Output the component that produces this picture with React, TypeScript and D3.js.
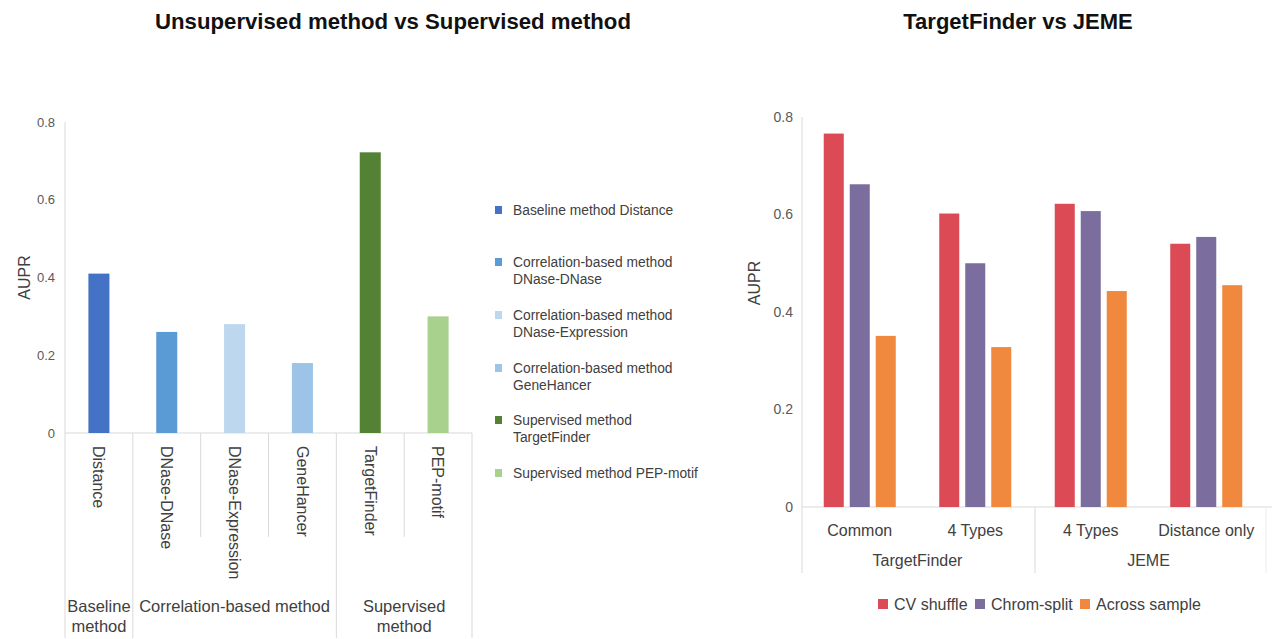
import React from "react";
import * as d3 from "d3";

// left chart: unsupervised vs supervised
const methods = ["Distance", "DNase-DNase", "DNase-Expression", "GeneHancer", "TargetFinder", "PEP-motif"];
const methodGroups = ["Baseline method", "Correlation-based method", "Correlation-based method", "Correlation-based method", "Supervised method", "Supervised method"];
const methodAupr = [0.41, 0.26, 0.28, 0.18, 0.722, 0.30];
const methodColors = ["#4472C4", "#5B9BD5", "#BDD7EE", "#9DC3E6", "#548235", "#A9D18E"];
const methodLegend = [
  ["Baseline method Distance"],
  ["Correlation-based method", "DNase-DNase"],
  ["Correlation-based method", "DNase-Expression"],
  ["Correlation-based method", "GeneHancer"],
  ["Supervised method", "TargetFinder"],
  ["Supervised method PEP-motif"],
];
const groupLabels: Record<string, string[]> = {
  "Baseline method": ["Baseline", "method"],
  "Correlation-based method": ["Correlation-based method"],
  "Supervised method": ["Supervised", "method"],
};

// right chart: TargetFinder vs JEME
const settings = ["Common", "4 Types", "4 Types ", "Distance only"];
const settingTools = ["TargetFinder", "TargetFinder", "JEME", "JEME"];
const series = ["CV shuffle", "Chrom-split", "Across sample"];
const cvShuffle = [0.766, 0.602, 0.622, 0.54];
const chromSplit = [0.662, 0.5, 0.607, 0.554];
const acrossSample = [0.351, 0.328, 0.443, 0.455];
const seriesColors = ["#DC4A56", "#7C6D9F", "#F0883D"];

const yTicks = [0, 0.2, 0.4, 0.6, 0.8];
const FONT = "'Liberation Sans', Arial, sans-serif";
const AXIS = "#D9D9D9";
const TXT = "#404040";

function LeftChart() {
  const x = d3.scaleBand<string>().domain(methods).range([65, 472]);
  const y = d3.scaleLinear().domain([0, 0.8]).range([433, 122]);
  const bw = x.bandwidth() * 0.31;
  const groups = d3.groups(methods.map((m, i) => ({ m, g: methodGroups[i] })), (d) => d.g);
  return (
    <g fontFamily={FONT}>
      <text x={393} y={29} textAnchor="middle" fontWeight="bold" fontSize={22.2} fill="#111">
        Unsupervised method vs Supervised method
      </text>
      {yTicks.map((t) => (
        <text key={t} x={55} y={y(t)} dy="0.35em" textAnchor="end" fontSize={13} fill="#595959">
          {t === 0 ? "0" : t.toFixed(1)}
        </text>
      ))}
      <text transform={`translate(24,${y(0.4)}) rotate(-90)`} textAnchor="middle" dy="0.35em" fontSize={16} fill={TXT}>
        AUPR
      </text>
      <line x1={65} x2={65} y1={y(0.8)} y2={638} stroke={AXIS} />
      <line x1={65} x2={472} y1={y(0)} y2={y(0)} stroke={AXIS} />
      {methods.map((m, i) => (
        <rect key={m} x={x(m)! + (x.bandwidth() - bw) / 2} width={bw} y={y(methodAupr[i])} height={y(0) - y(methodAupr[i])} fill={methodColors[i]} />
      ))}
      {methods.map((m, i) => {
        const edge = x(m)! + x.bandwidth();
        const last = i === methods.length - 1 || methodGroups[i + 1] !== methodGroups[i];
        return <line key={"s" + m} x1={edge} x2={edge} y1={y(0)} y2={last ? 638 : 537} stroke={AXIS} />;
      })}
      {methods.map((m) => (
        <text key={"l" + m} transform={`translate(${x(m)! + x.bandwidth() / 2},446) rotate(90)`} dy="0.35em" fontSize={16} fill={TXT}>
          {m}
        </text>
      ))}
      {groups.map(([g, items]) => {
        const x0 = x(items[0].m)!;
        const x1 = x(items[items.length - 1].m)! + x.bandwidth();
        return groupLabels[g].map((line, k) => (
          <text key={g + k} x={(x0 + x1) / 2} y={612 + k * 20} textAnchor="middle" fontSize={16.5} fill={TXT}>
            {line}
          </text>
        ));
      })}
      {methodLegend.map((lines, i) => {
        const ly = [210, 262, 315, 368, 420, 473][i];
        return (
          <g key={"lg" + i}>
            <rect x={495} y={ly - 4} width={7} height={8} fill={methodColors[i]} />
            {lines.map((l, k) => (
              <text key={k} x={513} y={ly + k * 17} dy="0.35em" fontSize={13.8} fill={TXT}>
                {l}
              </text>
            ))}
          </g>
        );
      })}
    </g>
  );
}

function RightChart() {
  const x0 = d3.scaleBand<string>().domain(settings).range([802, 1264]);
  const x1 = d3.scaleBand<string>().domain(series).range([-39, 39]).paddingInner(0.23).paddingOuter(0.115);
  const y = d3.scaleLinear().domain([0, 0.8]).range([507, 117]);
  const values = [cvShuffle, chromSplit, acrossSample];
  const tools = d3.groups(settings.map((s, i) => ({ s, t: settingTools[i] })), (d) => d.t);
  const legendX = [878, 975, 1080];
  return (
    <g fontFamily={FONT}>
      <text x={1018} y={29} textAnchor="middle" fontWeight="bold" fontSize={22} fill="#111">
        TargetFinder vs JEME
      </text>
      {yTicks.map((t) => (
        <text key={t} x={793} y={y(t)} dy="0.35em" textAnchor="end" fontSize={14} fill="#595959">
          {t === 0 ? "0" : t.toFixed(1)}
        </text>
      ))}
      <text transform="translate(754,283) rotate(-90)" textAnchor="middle" dy="0.35em" fontSize={16} fill={TXT}>
        AUPR
      </text>
      <line x1={802} x2={802} y1={y(0.8)} y2={573} stroke={AXIS} />
      <line x1={802} x2={1272} y1={y(0)} y2={y(0)} stroke={AXIS} />
      {settings.map((s, i) =>
        series.map((se, j) => (
          <rect key={s + se} x={x0(s)! + x0.bandwidth() / 2 + x1(se)!} width={x1.bandwidth()} y={y(values[j][i])} height={y(0) - y(values[j][i])} fill={seriesColors[j]} />
        ))
      )}
      {settings.map((s) => (
        <text key={"l" + s} x={x0(s)! + x0.bandwidth() / 2} y={536} textAnchor="middle" fontSize={16} fill={TXT}>
          {s.trim()}
        </text>
      ))}
      {tools.map(([t, items]) => {
        const a = x0(items[0].s)!;
        const b = x0(items[items.length - 1].s)! + x0.bandwidth();
        return (
          <g key={t}>
            <line x1={b + 2} x2={b + 2} y1={y(0)} y2={573} stroke={t === "JEME" ? "#EDEDED" : AXIS} />
            <text x={(a + b) / 2} y={566} textAnchor="middle" fontSize={16} fill={TXT}>
              {t}
            </text>
          </g>
        );
      })}
      {series.map((se, j) => (
        <g key={"lg" + se}>
          <rect x={legendX[j]} y={599} width={10} height={10} fill={seriesColors[j]} />
          <text x={legendX[j] + 16} y={610} fontSize={16} fill={TXT}>
            {se}
          </text>
        </g>
      ))}
    </g>
  );
}

export default function App() {
  return (
    <svg width={1274} height={639} style={{ position: "absolute", left: 0, top: 0, background: "#fff" }}>
      <rect width={1274} height={639} fill="#fff" />
      <LeftChart />
      <RightChart />
    </svg>
  );
}
